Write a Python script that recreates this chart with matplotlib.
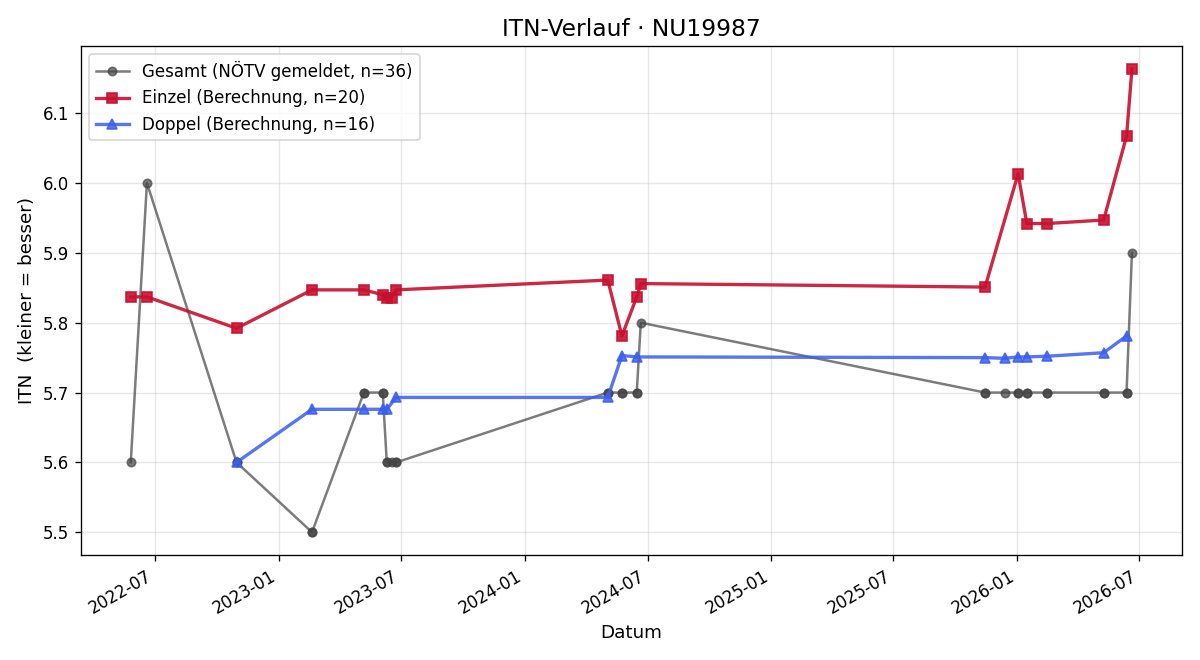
import numpy as np
import pandas as pd
import matplotlib
matplotlib.use("Agg")
import matplotlib.pyplot as plt
import matplotlib.dates as mdates

# Einzel-Spiele (Datum, berechnete ITN, gemeldete ITN)
einzel_datum = ["2022-05-26", "2022-06-19", "2022-10-30", "2023-02-19", "2023-05-07",
                "2023-06-04", "2023-06-10", "2023-06-17", "2023-06-24", "2024-05-03",
                "2024-05-24", "2024-06-15", "2024-06-21", "2025-11-14", "2026-01-02",
                "2026-01-15", "2026-02-14", "2026-05-09", "2026-06-12", "2026-06-20"]
einzel_itn = [5.837, 5.837, 5.792, 5.847, 5.847,
              5.840, 5.835, 5.836, 5.847, 5.861,
              5.781, 5.837, 5.856, 5.851, 6.013,
              5.942, 5.942, 5.947, 6.067, 6.163]
einzel_gemeldet = [5.6, 6.0, 5.6, 5.5, 5.7,
                   5.7, 5.6, 5.6, 5.6, 5.7,
                   5.7, 5.7, 5.8, 5.7, 5.7,
                   5.7, 5.7, 5.7, 5.7, 5.9]

# Doppel-Spiele
doppel_datum = ["2022-10-30", "2023-02-19", "2023-05-07", "2023-06-04", "2023-06-10",
                "2023-06-24", "2024-05-03", "2024-05-24", "2024-06-15", "2025-11-14",
                "2025-12-13", "2026-01-02", "2026-01-15", "2026-02-14", "2026-05-09",
                "2026-06-12"]
doppel_itn = [5.600, 5.676, 5.676, 5.676, 5.676,
              5.693, 5.693, 5.753, 5.751, 5.750,
              5.749, 5.751, 5.751, 5.752, 5.757,
              5.781]
doppel_gemeldet = [5.6, 5.5, 5.7, 5.7, 5.6,
                   5.6, 5.7, 5.7, 5.7, 5.7,
                   5.7, 5.7, 5.7, 5.7, 5.7,
                   5.7]

ein = pd.DataFrame({"datum": pd.to_datetime(einzel_datum), "itn": einzel_itn, "nu": einzel_gemeldet})
dop = pd.DataFrame({"datum": pd.to_datetime(doppel_datum), "itn": doppel_itn, "nu": doppel_gemeldet})
ges = pd.concat([ein, dop]).sort_values("datum", kind="stable")

fig, ax = plt.subplots(figsize=(10, 5.5), dpi=120)

ax.plot(ges["datum"], ges["nu"], marker="o", color="#444444", alpha=0.7,
        linewidth=1.5, markersize=5, label=f"Gesamt (NÖTV gemeldet, n={len(ges)})")
ax.plot(ein["datum"], ein["itn"], marker="s", color="#c8102e", alpha=0.9,
        linewidth=2, markersize=6, label=f"Einzel (Berechnung, n={len(ein)})")
ax.plot(dop["datum"], dop["itn"], marker="^", color="#3a5ef0", alpha=0.85,
        linewidth=2, markersize=6, label=f"Doppel (Berechnung, n={len(dop)})")

ax.set_title("ITN-Verlauf · NU19987", fontsize=14)
ax.set_xlabel("Datum", fontsize=11)
ax.set_ylabel("ITN  (kleiner = besser)", fontsize=11)
ax.xaxis.set_major_locator(mdates.MonthLocator(bymonth=[1, 7]))
ax.xaxis.set_major_formatter(mdates.DateFormatter("%Y-%m"))
ax.grid(True, alpha=0.3)
ax.legend(loc="upper left", fontsize=10)
fig.autofmt_xdate()
fig.tight_layout()
fig.savefig("out.png")
